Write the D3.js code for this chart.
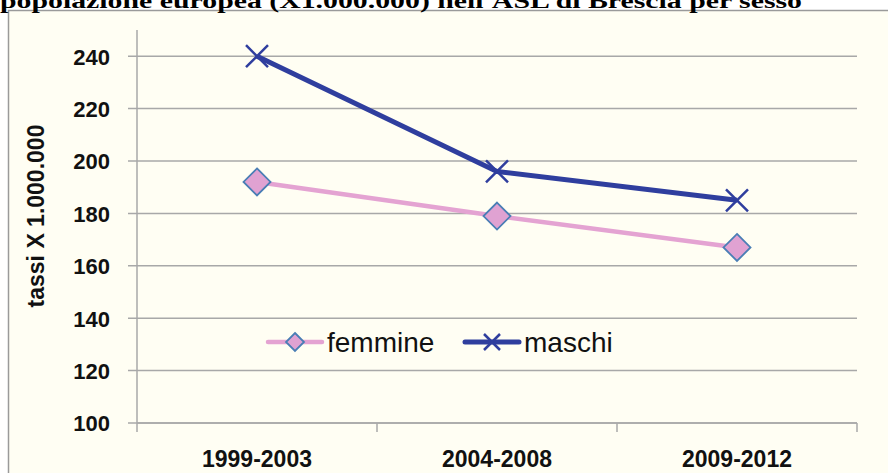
<!DOCTYPE html>
<html lang="it">
<head>
<meta charset="utf-8">
<title>Tassi per sesso - ASL di Brescia</title>
<script src="https://cdn.jsdelivr.net/npm/d3@7"></script>
<style>
  body { margin: 0; background: #fff; }
  svg { display: block; }
  .tick text { font-family: "Liberation Sans", Arial, sans-serif; font-weight: bold; fill: #111; }
</style>
</head>
<body>
<svg id="chart" width="888" height="473"></svg>
<script>
// data
var periods = ['1999-2003', '2004-2008', '2009-2012'];
var femmine = [192, 179, 167];
var maschi = [240, 196, 185];
var yTicks = [100, 120, 140, 160, 180, 200, 220, 240];

var titleText = "popolazione europea (X1.000.000) nell'ASL di Brescia per sesso";
var yTitle = 'tassi X 1.000.000';

var series = [
    {name: 'femmine', values: femmine, color: '#E4A3D2', width: 4.5, marker: 'diamond'},
    {name: 'maschi', values: maschi, color: '#2F3E9E', width: 5, marker: 'cross'}
];

var svg = d3.select('#chart');
var W = 888, H = 473;
var plotLeft = 137, plotRight = 857, plotTop = 30, plotBottom = 423;

// chart area background + border
svg.append('rect')
    .attr('x', 8.5).attr('y', 10.5)
    .attr('width', W).attr('height', H)
    .attr('fill', '#FFFEF3')
    .attr('stroke', '#9a9a9a')
    .attr('stroke-width', 1.5);

// title, cut off at the top
svg.append('text')
    .attr('x', 0).attr('y', 8)
    .attr('font-family', '"Liberation Serif", "Times New Roman", serif')
    .attr('font-weight', 'bold')
    .attr('font-size', 22)
    .attr('textLength', 802)
    .attr('lengthAdjust', 'spacingAndGlyphs')
    .text(titleText);

var x = d3.scaleBand().domain(periods).range([plotLeft, plotRight]);
var y = d3.scaleLinear().domain([100, 250]).range([plotBottom, plotTop]);

// gridlines
svg.append('g')
    .selectAll('line')
    .data(yTicks)
    .join('line')
    .attr('x1', plotLeft - 9).attr('x2', plotRight)
    .attr('y1', d => y(d)).attr('y2', d => y(d))
    .attr('stroke', '#a8a8a8')
    .attr('stroke-width', 1.5);

// y axis
var yAxis = svg.append('g')
    .attr('transform', 'translate(' + plotLeft + ',0)')
    .call(d3.axisLeft(y).tickValues(yTicks).tickSize(0).tickPadding(27));
yAxis.select('.domain').remove();
yAxis.append('line')
    .attr('x1', 0).attr('x2', 0)
    .attr('y1', plotTop).attr('y2', plotBottom + 9)
    .attr('stroke', '#a8a8a8').attr('stroke-width', 1.5);
yAxis.selectAll('text').attr('font-size', 22).attr('dy', '0.36em');

// x axis
var xAxis = svg.append('g')
    .attr('transform', 'translate(0,' + plotBottom + ')')
    .call(d3.axisBottom(x).tickSize(0).tickPadding(28));
xAxis.select('.domain').remove();
xAxis.selectAll('text').attr('font-size', 23);
xAxis.selectAll('.bound')
    .data(periods)
    .join('line')
    .attr('class', 'bound')
    .attr('x1', d => x(d) + x.bandwidth()).attr('x2', d => x(d) + x.bandwidth())
    .attr('y1', 0).attr('y2', 9)
    .attr('stroke', '#a8a8a8').attr('stroke-width', 1.5);
xAxis.append('line')
    .attr('x1', plotLeft).attr('x2', plotRight)
    .attr('y1', 0).attr('y2', 0)
    .attr('stroke', '#a8a8a8').attr('stroke-width', 1.5);

// y axis title
svg.append('text')
    .attr('transform', 'translate(44,216) rotate(-90)')
    .attr('text-anchor', 'middle')
    .attr('font-family', '"Liberation Sans", Arial, sans-serif')
    .attr('font-weight', 'bold')
    .attr('font-size', 23)
    .attr('fill', '#111')
    .text(yTitle);

function drawMarker(g, type, color, s) {
    if (type == 'diamond') {
        g.append('path')
            .attr('d', 'M0,' + (-s) + 'L' + s + ',0L0,' + s + 'L' + (-s) + ',0Z')
            .attr('fill', '#E0A2D2')
            .attr('stroke', '#4A7EB5')
            .attr('stroke-width', 1.8);
    } else {
        g.append('path')
            .attr('d', 'M' + (-s) + ',' + (-s) + 'L' + s + ',' + s + 'M' + (-s) + ',' + s + 'L' + s + ',' + (-s))
            .attr('stroke', color)
            .attr('stroke-width', 2.5)
            .attr('fill', 'none');
    }
}

var line = d3.line()
    .x((d, i) => x(periods[i]) + x.bandwidth() / 2)
    .y(d => y(d));

series.forEach(function(s) {
    svg.append('path')
        .datum(s.values)
        .attr('d', line)
        .attr('fill', 'none')
        .attr('stroke', s.color)
        .attr('stroke-width', s.width)
        .attr('stroke-linejoin', 'round');
    s.values.forEach(function(v, i) {
        var g = svg.append('g')
            .attr('transform', 'translate(' + (x(periods[i]) + x.bandwidth() / 2) + ',' + y(v) + ')');
        drawMarker(g, s.marker, s.color, s.marker == 'diamond' ? 13.5 : 11);
    });
});

// legend
var legendX = [268, 465];
series.forEach(function(s, i) {
    var g = svg.append('g').attr('transform', 'translate(' + legendX[i] + ',342)');
    g.append('line')
        .attr('x1', 0).attr('x2', 54)
        .attr('stroke', s.color)
        .attr('stroke-width', s.width)
        .attr('stroke-linecap', 'round');
    drawMarker(g.append('g').attr('transform', 'translate(27,0)'), s.marker, s.color, s.marker == 'diamond' ? 9 : 8);
    g.append('text')
        .attr('x', 59).attr('y', 0).attr('dy', '0.35em')
        .attr('font-family', '"Liberation Sans", Arial, sans-serif')
        .attr('font-size', 28)
        .attr('fill', '#111')
        .text(s.name);
});
</script>
</body>
</html>
